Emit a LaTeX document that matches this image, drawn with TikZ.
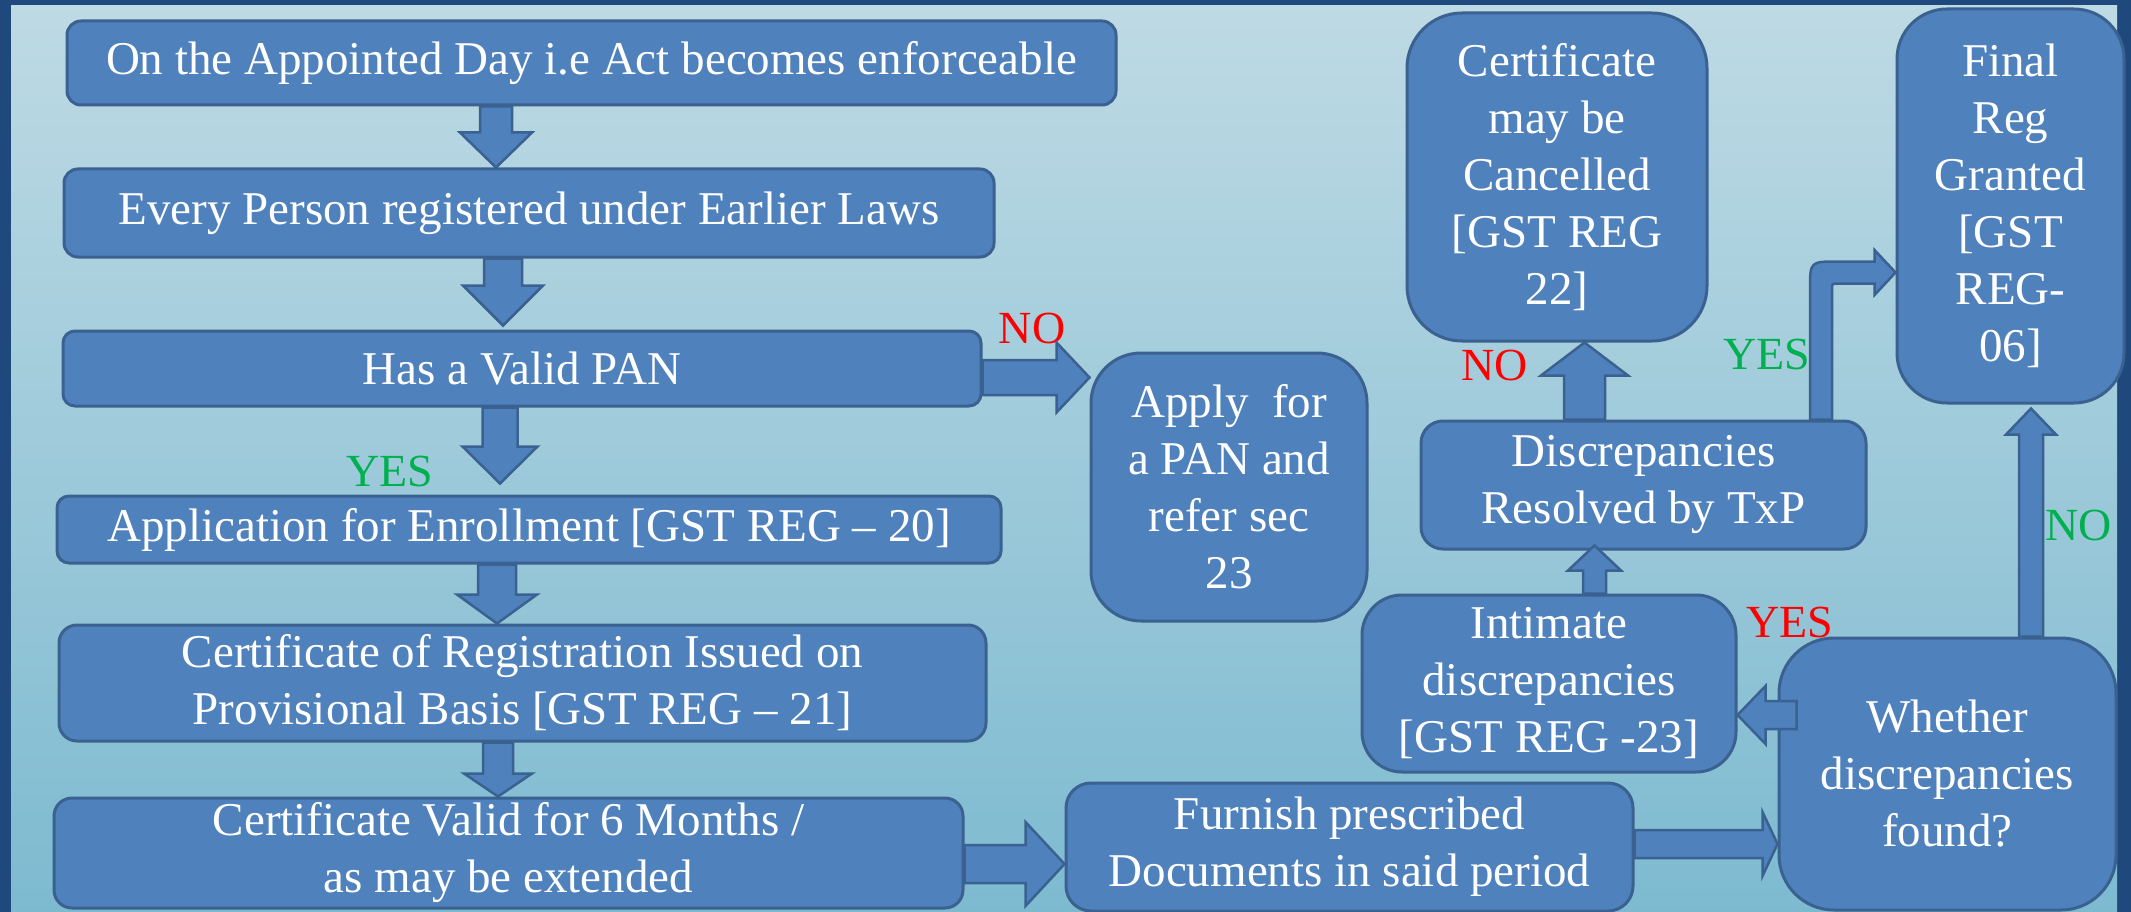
\documentclass[tikz,border=0pt]{standalone}
\usepackage{fontspec}
\setmainfont{Liberation Serif}
\usetikzlibrary{calc}
\definecolor{frame}{HTML}{1F497D}
\definecolor{bgtop}{HTML}{BEDAE4}
\definecolor{bgbot}{HTML}{7DBAD0}
\definecolor{boxfill}{HTML}{4F81BD}
\definecolor{boxline}{HTML}{3A6190}
\definecolor{yesgreen}{HTML}{00B050}
\definecolor{nored}{HTML}{FF0000}
% #1 start, #2 tip, #3 shaft half width, #4 head half width, #5 head length
\newcommand\blockarrow[5]{%
  \coordinate (ba-s) at (#1);
  \coordinate (ba-e) at (#2);
  \coordinate (ba-b) at ($(ba-e)!#5!(ba-s)$);
  \draw[barrow] ($(ba-s)!#3!90:(ba-e)$) -- ($(ba-b)!#3!-90:(ba-s)$) -- ($(ba-b)!#4!-90:(ba-s)$)
     -- (ba-e) -- ($(ba-b)!#4!90:(ba-s)$) -- ($(ba-b)!#3!90:(ba-s)$) -- ($(ba-s)!#3!-90:(ba-e)$) -- cycle;
}
\begin{document}
\begin{tikzpicture}[x=1pt,y=-1pt,
  box/.style={draw=boxline, fill=boxfill, line width=3pt, text=white, align=center, inner sep=0pt,
    font=\fontsize{47pt}{57pt}\selectfont},
  lab/.style={inner sep=0pt, text height=31pt, text depth=0pt, font=\fontsize{46pt}{57pt}\selectfont},
  barrow/.style={draw=boxline, fill=boxfill, line width=2.5pt, line join=miter}]
\useasboundingbox (0,0) rectangle (2131,912);
\fill[frame] (0,0) rectangle (2131,912);
\shade[top color=bgtop, bottom color=bgbot] (11,6) rectangle (2117,912);

% left column
\node[box, minimum width=1049pt, minimum height=84pt, rounded corners=14pt] (b1) at (591.5,63) {On the Appointed Day i.e Act becomes enforceable};
\node[box, minimum width=930pt, minimum height=88pt, rounded corners=14pt] (b2) at (529,213) {Every Person registered under Earlier Laws};
\node[box, minimum width=918pt, minimum height=75pt, rounded corners=12pt] (b3) at (522,368.5) {Has a Valid PAN};
\node[box, minimum width=944pt, minimum height=67pt, rounded corners=12pt] (b4) at (529,529.5) {Application for Enrollment [GST REG – 20]};
\node[box, minimum width=927pt, minimum height=116pt, rounded corners=18pt] (b5) at (522.5,683) {Certificate of Registration Issued on\\Provisional Basis [GST REG – 21]};
\node[box, minimum width=909pt, minimum height=110pt, rounded corners=18pt] (b6) at (508.5,853) {Certificate Valid for 6 Months /\\as may be extended};

% right part
\node[box, minimum width=276pt, minimum height=268pt, rounded corners=50pt] (apply) at (1229,487) {Apply\ \ for\\a PAN and\\refer sec\\23};
\node[box, minimum width=567pt, minimum height=128pt, rounded corners=25pt] (furnish) at (1349.5,847) {Furnish prescribed\\Documents in said period};
\node[box, minimum width=300pt, minimum height=328pt, rounded corners=55pt] (cancel) at (1557,177) {Certificate\\may be\\Cancelled\\{}[GST REG\\22]};
\node[box, minimum width=227pt, minimum height=394pt, rounded corners=50pt] (final) at (2010.5,206) {Final\\Reg\\Granted\\{}[GST\\REG-\\06]};
\node[box, minimum width=445pt, minimum height=128pt, rounded corners=22pt] (disc) at (1643.5,485) {Discrepancies\\Resolved by TxP};
\node[box, minimum width=374pt, minimum height=177pt, rounded corners=40pt] (intimate) at (1549,683.5) {Intimate\\discrepancies\\{}[GST REG -23]};
\node[box, minimum width=337pt, minimum height=272pt, rounded corners=55pt] (whether) at (1947.5,774) {Whether\\discrepancies\\found?};

% labels
\node[lab, text=nored] (lno1) at (1032,327.5) {NO};
\node[lab, text=yesgreen] (lyes1) at (389.5,471) {YES};
\node[lab, text=nored] (lno2) at (1494.5,364.5) {NO};
\node[lab, text=yesgreen] (lyes2) at (1766.5,353.5) {YES};
\node[lab, text=nored] (lyes3) at (1789.5,622) {YES};
\node[lab, text=yesgreen] (lno3) at (2078.5,525) {NO};

% guide coordinates for arrow lines
\coordinate (c1) at (496,0);
\coordinate (c2) at (503,0);
\coordinate (c3) at (500,0);
\coordinate (c4) at (497,0);
\coordinate (c5) at (498,0);
\coordinate (r6) at (0,864);
\coordinate (rno) at (0,377.5);
\coordinate (rf) at (0,844);
\coordinate (rw) at (0,715);
\coordinate (ci) at (1594.5,0);
\coordinate (cc) at (1584.5,0);
\coordinate (cf) at (2031,0);
\coordinate (cy) at (1821,0);
\coordinate (ry) at (0,272.5);

% arrows
\blockarrow{b1.south -| c1}{b2.north -| c1}{16pt}{36pt}{35pt}
\blockarrow{b2.south -| c2}{$(b3.north -| c2)+(0,-4)$}{19pt}{40pt}{40pt}
\blockarrow{b3.south -| c3}{$(b4.north -| c3)+(0,-11)$}{17.5pt}{37.5pt}{37pt}
\blockarrow{b4.south -| c4}{b5.north -| c4}{19pt}{40pt}{29pt}
\blockarrow{b5.south -| c5}{b6.north -| c5}{15pt}{34pt}{23pt}
\blockarrow{b6.east |- r6}{furnish.west |- r6}{19pt}{42pt}{39pt}
\blockarrow{b3.east |- rno}{apply.west |- rno}{17.5pt}{35pt}{33pt}
\blockarrow{furnish.east |- rf}{whether.west |- rf}{14pt}{32pt}{15pt}
\blockarrow{$(whether.west |- rw)+(19,0)$}{intimate.east |- rw}{14pt}{29pt}{28pt}
\blockarrow{intimate.north -| ci}{$(disc.south -| ci)+(0,-5)$}{11.5pt}{26.5pt}{25pt}
\blockarrow{disc.north -| cc}{cancel.south -| cc}{20.5pt}{43.5pt}{33pt}
\blockarrow{whether.north -| cf}{$(final.south -| cf)+(0,4)$}{12pt}{25pt}{26pt}

% bent YES arrow
\coordinate (ys) at (disc.north -| cy);
\coordinate (ye) at (final.west |- ry);
\coordinate (yk) at (ys |- ye);
\draw[barrow] ($(ys)+(-11,0)$) -- ($(yk)+(-11,17)$) .. controls ($(yk)+(-11,-11)$) .. ($(yk)+(17,-11)$)
  -- ($(ye)+(-21,-11)$) -- ($(ye)+(-21,-22.5)$) -- (ye) -- ($(ye)+(-21,22.5)$) -- ($(ye)+(-21,11)$)
  -- ($(yk)+(17,11)$) .. controls ($(yk)+(11,11)$) .. ($(yk)+(11,17)$) -- ($(ys)+(11,0)$) -- cycle;
\end{tikzpicture}
\end{document}
